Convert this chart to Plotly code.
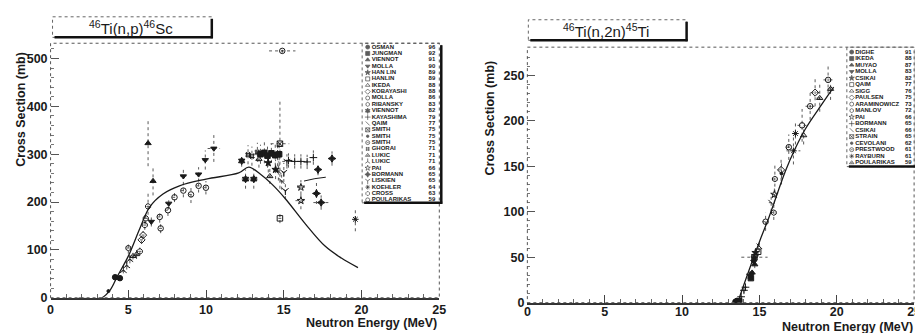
import plotly.graph_objects as go

W, H = 923, 333

# ================= DATA : 46Ti(n,p)46Sc =================
np_names = ["OSMAN", "JUNGMAN", "VIENNOT", "MOLLA", "HAN LIN", "HANLIN", "IKEDA",
            "KOBAYASHI", "MOLLA", "RIBANSKY", "VIENNOT", "KAYASHIMA", "QAIM", "SMITH",
            "SMITH", "SMITH", "GHORAI", "LUKIC", "LUKIC", "PAI", "BORMANN", "LISKIEN",
            "KOEHLER", "CROSS", "POULARIKAS"]
np_years = ["96", "92", "91", "90", "89", "89", "88", "88", "86", "83", "82", "79", "77",
            "75", "75", "75", "71", "71", "71", "66", "65", "65", "64", "63", "59"]
np_E = [[4.15, 4.46], [13.5, 13.75, 13.95, 14.2, 14.45, 14.7], [6.27, 6.59],
        [6.48, 7.6, 8.54, 9.52, 9.95, 10.5], [14.0, 14.47, 14.6], [14.75], [13.4, 14.1],
        [5.85, 5.95], [7.02, 7.97, 8.54, 9.03, 9.52, 9.99], [5.0], [12.29, 12.54, 13.07],
        [15.3, 15.7, 16.1, 16.5, 16.9], [14.65, 14.86], [14.75], [3.72], [14.9],
        [12.7, 12.95, 13.3], [5.3, 5.53], [4.68, 4.9, 5.1], [16.1, 16.1],
        [17.1, 17.2, 17.4, 18.1], [15.0, 15.1, 15.2], [19.6], [5.74, 6.06, 6.12, 6.27],
        [7.08, 7.55]]
np_xs = [[43, 41], [300, 303, 297, 302, 298, 300], [323, 244],
         [159, 197, 254, 258, 288, 312], [282, 268, 300], [166], [290, 254],
         [121, 131], [169, 210, 224, 216, 234, 230], [104], [286, 248, 248],
         [287, 285, 285, 284, 293], [265, 244], [322], [14], [516],
         [299, 296, 304], [87, 91], [57, 67, 80], [231, 203],
         [218, 268, 199, 291], [262, 224, 285], [164], [97, 152, 166, 191],
         [145, 183]]
np_dE = [[0.08, 0.08], [0.15] * 6, [0.05, 0.05], [0.1, 0.2, 0.2, 0.2, 0.2, 0.4],
         [0.1, 0.1, 0.1], [0.1], [0.1, 0.1], [0.1, 0.1], [0.15] * 6, [0.1],
         [0.15, 0.25, 0.25], [0.2] * 5, [0.1, 0.1], [0.6], [0.05], [0.85],
         [0.15] * 3, [0.1, 0.1], [0.1] * 3, [0.25, 0.35], [0.25, 0.2, 0.5, 0.2],
         [0.1, 0.1, 0.3], [0.1], [0.1] * 4, [0.1, 0.2]]
np_dxs = [[4, 4], [20, 22, 25, 20, 22, 25], [48, 30], [10, 12, 18, 15, 20, 28],
          [20, 20, 25], [10], [18, 16], [8, 8], [12, 10, 14, 18, 14, 14], [12],
          [12, 20, 20], [15] * 5, [20, 18], [94], [3], [4], [20] * 3, [7, 10],
          [6, 8, 8], [15, 18], [22, 12, 15, 15], [20, 18, 15], [25],
          [8, 10, 12, 30], [10, 12]]
np_eval_E = [1.8, 3.3, 3.83, 4.3, 5.0, 5.74, 6.38, 7.23, 8.29, 10.0, 12.1, 12.75,
             13.5, 14.25, 15.1, 16.37, 17.65, 18.7, 19.77]
np_eval_xs = [0, 0, 16, 45, 87, 145, 190, 217, 234, 248, 261, 273,
              258, 237, 207, 155, 108, 83, 63]
np_eval2_E = [16.3, 17.0, 17.7]
np_eval2_xs = [244, 249, 252]

# ================= DATA : 46Ti(n,2n)45Ti =================
n2n_names = ["DIGHE", "IKEDA", "MUYAO", "MOLLA", "CSIKAI", "QAIM", "SIGG", "PAULSEN",
             "ARAMINOWICZ", "MANLOV", "PAI", "BORMANN", "CSIKAI", "STRAIN", "CEVOLANI",
             "PRESTWOOD", "RAYBURN", "POULARIKAS"]
n2n_years = ["91", "88", "87", "83", "82", "77", "76", "75", "73", "72", "66", "65",
             "66", "65", "62", "61", "61", "59"]
n2n_E = [[13.45, 13.55], [13.6, 13.7, 14.45], [14.53, 14.7], [14.64, 14.68],
         [14.4, 14.75], [14.92], [17.86], [16.4, 18.6], [15.4, 17.76, 19.44],
         [15.93, 16.0], [15.97], [13.82, 14.0, 14.1], [15.0, 15.76], [14.68],
         [16.43], [16.9, 18.28], [17.2, 17.33], [18.9, 19.6]]
n2n_xs = [[1, 2], [0.5, 1.5, 27], [33, 42], [45, 49], [30, 55], [56], [184],
          [146, 231], [89, 195, 245], [99, 136], [119], [6.5, 13.6, 17], [62, 110],
          [50], [142], [171, 216], [167, 186], [225, 235]]
n2n_dE = [[0.05, 0.05], [0.05, 0.05, 0.1], [0.1, 0.1], [0.1, 0.1], [0.1, 0.1],
          [0.1], [0.15], [0.2, 0.3], [0.2, 0.3, 0.3], [0.2, 0.2], [0.15],
          [0.1, 0.1, 0.1], [0.15, 0.15], [0.85], [0.1], [0.2, 0.3], [0.45, 0.2],
          [0.2, 0.2]]
n2n_dxs = [[1, 1], [1, 1, 3], [3, 4], [4, 4], [3, 5], [5], [10], [12, 15],
           [10, 18, 15], [8, 15], [10], [2, 3, 3], [6, 10], [4], [12], [14, 15],
           [15, 12], [15, 12]]
n2n_eval_E = [13.6, 13.9, 14.98, 15.62, 16.69, 17.33, 17.97, 19.03, 19.8]
n2n_eval_xs = [0, 15, 66, 94, 145, 170, 191, 218, 237]

x_ticks = [0, 5, 10, 15, 20, 25]

# ================= STYLE =================
INK = "#1a1a1a"
ERR = "#5a5a5a"
FONT = "Liberation Sans"

np_symbols = ["circle", "square", "triangle-up", "triangle-down", "star", "square-open",
              "triangle-up-open", "diamond-open", "circle-open", "hexagon-open",
              "hexagram", "cross-thin-open", "line-nw-open", "square-x-open", "circle",
              "circle-open-dot", "hash-open", "triangle-up-open-dot", "y-up-open",
              "star-open", "star-diamond", "y-down-open", "asterisk-open",
              "octagon-open", "circle-open"]
n2n_symbols = ["circle", "square", "triangle-up", "triangle-down", "star", "square-open",
               "triangle-up-open", "diamond-open", "circle-open", "hexagon-open",
               "star-open", "cross-thin-open", "line-nw-open", "square-x-open", "circle",
               "circle-open-dot", "asterisk-open", "triangle-up-open-dot"]

fig = go.Figure()


def error_segments(E, xs, dE, dxs):
    ex, ey = [], []
    for s in range(len(E)):
        for e, v, de, dv in zip(E[s], xs[s], dE[s], dxs[s]):
            ex += [e, e, None, e - de, e + de, None]
            ey += [v - dv, v + dv, None, v, v, None]
    return ex, ey


def add_panel(names, years, E, xs, dE, dxs, symbols, xa, ya, lxa, lya, small_idx):
    ex, ey = error_segments(E, xs, dE, dxs)
    fig.add_trace(go.Scatter(x=ex, y=ey, mode="lines", xaxis=xa, yaxis=ya,
                             showlegend=False, hoverinfo="skip",
                             line=dict(color=ERR, width=1, dash="dot")))
    for i in range(len(names)):
        size = 3 if i == small_idx else 5.5
        fig.add_trace(go.Scatter(
            x=E[i], y=xs[i], mode="markers", xaxis=xa, yaxis=ya, showlegend=False,
            marker=dict(symbol=symbols[i], size=size, color=INK,
                        line=dict(color=INK, width=1)),
        ))
    n = len(names)
    idx = list(range(n))
    fig.add_trace(go.Scatter(
        x=[0.07] * n, y=idx, mode="markers", xaxis=lxa, yaxis=lya, showlegend=False,
        marker=dict(symbol=symbols, size=[2.5 if i == small_idx else 4 for i in idx],
                    color=INK, line=dict(color=INK, width=0.8)),
        cliponaxis=False))
    fig.add_trace(go.Scatter(
        x=[0.12] * n, y=idx, mode="text", text=names, textposition="middle right",
        xaxis=lxa, yaxis=lya, showlegend=False, cliponaxis=False,
        textfont=dict(family=FONT, size=6, color=INK, weight="bold")))
    fig.add_trace(go.Scatter(
        x=[0.84] * n, y=idx, mode="text", text=years, textposition="middle right",
        xaxis=lxa, yaxis=lya, showlegend=False, cliponaxis=False,
        textfont=dict(family=FONT, size=6, color=INK, weight="bold")))


add_panel(np_names, np_years, np_E, np_xs, np_dE, np_dxs, np_symbols,
          "x", "y", "x3", "y3", 14)
fig.add_trace(go.Scatter(x=np_eval_E, y=np_eval_xs, mode="lines", xaxis="x", yaxis="y",
                         line=dict(color=INK, width=1.3, shape="spline"), showlegend=False))
fig.add_trace(go.Scatter(x=np_eval2_E, y=np_eval2_xs, mode="lines", xaxis="x", yaxis="y",
                         line=dict(color=INK, width=1), showlegend=False))

add_panel(n2n_names, n2n_years, n2n_E, n2n_xs, n2n_dE, n2n_dxs, n2n_symbols,
          "x2", "y2", "x4", "y4", 14)
fig.add_trace(go.Scatter(x=n2n_eval_E, y=n2n_eval_xs, mode="lines", xaxis="x2", yaxis="y2",
                         line=dict(color=INK, width=1.3, shape="spline"), showlegend=False))


def px(x):
    return x / W


def py(y):
    return 1 - y / H


tickfont = dict(family=FONT, size=12.5, color=INK, weight="bold")


def xaxis(dom, anchor, standoff):
    return dict(domain=dom, anchor=anchor, range=[0, 25], tickvals=x_ticks,
                ticks="inside", ticklen=8, tickcolor="#444", tickwidth=1,
                minor=dict(dtick=1, ticks="inside", ticklen=4, tickcolor="#666"),
                showline=True, linecolor="#333", linewidth=1.5, showgrid=False,
                zeroline=False, tickfont=tickfont, fixedrange=True,
                ticklabelstandoff=standoff)


def yaxis(dom, anchor, rng, dt, mdt):
    return dict(domain=dom, anchor=anchor, range=rng, dtick=dt, tick0=0,
                ticks="inside", ticklen=8, tickcolor="#555", tickwidth=1,
                minor=dict(dtick=mdt, ticks="inside", ticklen=3, tickcolor="#777"),
                showline=False, showgrid=False, zeroline=False, tickfont=tickfont,
                fixedrange=True, ticklabelstandoff=2)


hidden = dict(visible=False, fixedrange=True)

fig.update_layout(
    width=W, height=H, margin=dict(l=0, r=0, t=0, b=0),
    paper_bgcolor="white", plot_bgcolor="rgba(0,0,0,0)", showlegend=False,
    xaxis=xaxis([px(40), px(433)], "y", -1),
    yaxis=yaxis([py(296), py(36)], "x", [0, 532], 100, 20),
    xaxis2=xaxis([px(522), px(913)], "y2", -3),
    yaxis2=yaxis([py(301), py(40)], "x2", [0, 281], 50, 10),
    xaxis3=dict(domain=[px(355), px(435)], anchor="y3", range=[0, 1], **hidden),
    yaxis3=dict(domain=[py(199), py(36)], anchor="x3", range=[24.46, -0.6], **hidden),
    xaxis4=dict(domain=[px(845), px(915)], anchor="y4", range=[0, 1], **hidden),
    yaxis4=dict(domain=[py(162), py(40)], anchor="x4", range=[17.6, -0.75], **hidden),
)

shapes = []


def frame(xd, yd):
    shapes.append(dict(type="rect", xref=xd, yref=yd, x0=0, x1=1, y0=0, y1=1,
                       line=dict(color="#555", width=1, dash="dot"), layer="above"))


frame("x domain", "y domain")
frame("x2 domain", "y2 domain")


def shadow_box(x0, y0, x1, y1):
    shapes.append(dict(type="rect", xref="paper", yref="paper",
                       x0=px(x0), x1=px(x1), y0=py(y1), y1=py(y0),
                       fillcolor="white", line=dict(color="#666", width=1, dash="dot"),
                       layer="below"))
    shapes.append(dict(type="line", xref="paper", yref="paper",
                       x0=px(x1), x1=px(x1), y0=py(y1 + 1), y1=py(y0 + 2),
                       line=dict(color="#111", width=2.5), layer="above"))
    shapes.append(dict(type="line", xref="paper", yref="paper",
                       x0=px(x0 + 2), x1=px(x1 + 1), y0=py(y1), y1=py(y1),
                       line=dict(color="#111", width=2.5), layer="above"))


shadow_box(42, 9, 203, 30)
shadow_box(523, 12, 683, 33)
shadow_box(355, 36, 435, 199)
shadow_box(845, 40, 915, 162)

annotations = []
for (t, xc, yc) in [("<sup>46</sup>Ti(n,p)<sup>46</sup>Sc", 121, 20),
                    ("<sup>46</sup>Ti(n,2n)<sup>45</sup>Ti", 602, 23)]:
    annotations.append(dict(text=t, x=px(xc), y=py(yc), xref="paper", yref="paper",
                            showarrow=False, xanchor="center", yanchor="middle",
                            font=dict(family=FONT, size=15, color=INK)))
for (xc, yc) in [(10, 103), (484, 112)]:
    annotations.append(dict(text="Cross Section (mb)", x=px(xc), y=py(yc), xref="paper",
                            yref="paper", showarrow=False, textangle=-90,
                            xanchor="center", yanchor="middle",
                            font=dict(family=FONT, size=12.5, color=INK, weight="bold")))
for (xr, yc) in [(433, 322), (914, 326)]:
    annotations.append(dict(text="Neutron Energy (MeV)", x=px(xr), y=py(yc), xref="paper",
                            yref="paper", showarrow=False, xanchor="right",
                            yanchor="middle",
                            font=dict(family=FONT, size=12.5, color=INK, weight="bold")))

fig.update_layout(shapes=shapes, annotations=annotations)

fig.write_html("out.html")
